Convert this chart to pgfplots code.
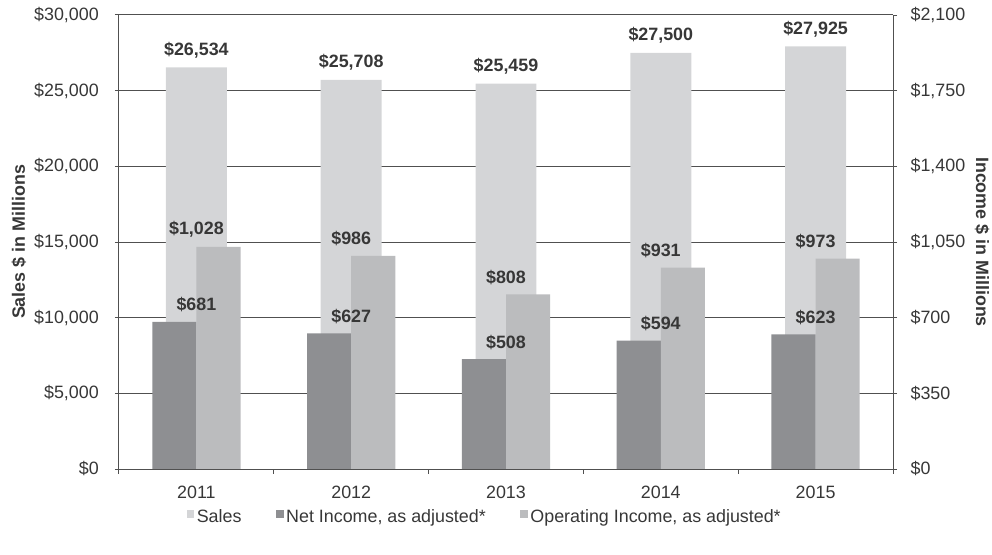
\documentclass[border=0pt]{standalone}
\usepackage{pgfplots}
\usepackage{pgfplotstable}
\pgfplotsset{compat=1.18}
\usepackage{fontspec}
\setmainfont{Liberation Sans}
\definecolor{salescol}{RGB}{212,213,215}
\definecolor{netcol}{RGB}{142,143,146}
\definecolor{opcol}{RGB}{187,188,190}
\definecolor{gridcol}{RGB}{80,80,80}
\definecolor{txtcol}{RGB}{55,55,55}

\pgfplotstableread{
x sales net op
0 26534 681 1028
1 25708 627 986
2 25459 508 808
3 27500 594 931
4 27925 623 973
}\datatable

\begin{document}
\begin{tikzpicture}[font=\fontsize{13.4}{15}\selectfont, text=txtcol]
\pgfplotsset{
  base/.style={
    at={(0pt,0pt)}, anchor=south west, scale only axis,
    width=580.5pt, height=340.5pt,
    xmin=-0.5, xmax=4.5,
    scaled y ticks=false,
    /pgf/number format/assume math mode=true,
    /pgf/number format/fixed,
    /pgf/number format/precision=0,
    /pgf/number format/1000 sep={,},
    tick align=outside, major tick length=3pt, minor tick length=3.5pt,
    axis line style={gridcol, line width=0.75pt, -},
    every tick/.style={gridcol, line width=0.75pt},
    tick label style={text=txtcol, font=\fontsize{13.4}{15}\selectfont},
    label style={text=txtcol, font=\fontsize{13.4}{15}\selectfont\bfseries},
    nodes near coords={\$\pgfmathprintnumber{\pgfplotspointmeta}},
    every node near coord/.append style={font=\fontsize{13.4}{15}\selectfont\bfseries, text=txtcol, anchor=south, inner sep=0pt, yshift=7pt},
  }
}
\begin{axis}[base,
  ymin=0, ymax=30000, ytick={0,5000,...,30000},
  axis y line*=left, hide x axis,
  ymajorgrids, grid style={gridcol, line width=0.75pt},
  yticklabel={\$\pgfmathprintnumber{\tick}},
  yticklabel style={inner sep=0pt, xshift=-12pt},
  ylabel={Sales \$ in Millions},
  ylabel style={at={(axis description cs:-0.1292,0.5)}, anchor=center},
]
\addplot[ybar, bar width=0.394, bar shift=0, fill=salescol, draw=none] table[x=x,y=sales]{\datatable};
\end{axis}
\begin{axis}[base,
  ymin=0, ymax=2100, ytick={0,350,...,2100},
  axis y line*=right, axis x line*=bottom, axis on top,
  xtick={0,1,2,3,4}, xticklabels={2011,2012,2013,2014,2015},
  major x tick style={draw=none},
  minor xtick={-0.5,0.5,...,4.5},
  xticklabel style={yshift=-6pt},
  yticklabel={\$\pgfmathprintnumber{\tick}},
  yticklabel style={inner sep=0pt, xshift=10pt},
  ylabel={Income \$ in Millions},
  ylabel style={at={(axis description cs:1.115,0.5)}, anchor=center, rotate=180},
  legend style={at={(axis description cs:0.473,-0.1057)}, anchor=center, draw=none, fill=none,
    legend columns=3, font=\fontsize{13.4}{15}\selectfont, text=txtcol,
    /tikz/every even column/.append style={column sep=24pt}},
  legend image code/.code={\fill[#1] (0pt,-0.5pt) rectangle (5.5pt,5pt);},
]
\addlegendimage{fill=salescol, draw=none}
\addlegendentry{Sales}
\addplot[ybar, bar width=0.285, bar shift=-0.1425, fill=netcol, draw=none] table[x=x,y=net]{\datatable};
\addlegendentry{Net Income, as adjusted*}
\addplot[ybar, bar width=0.285, bar shift=0.1425, fill=opcol, draw=none] table[x=x,y=op]{\datatable};
\addlegendentry{Operating Income, as adjusted*}
\end{axis}
\pgfresetboundingbox
\path[use as bounding box] (-89.25pt,-63.75pt) rectangle (654.75pt,351.75pt);
\end{tikzpicture}
\end{document}
